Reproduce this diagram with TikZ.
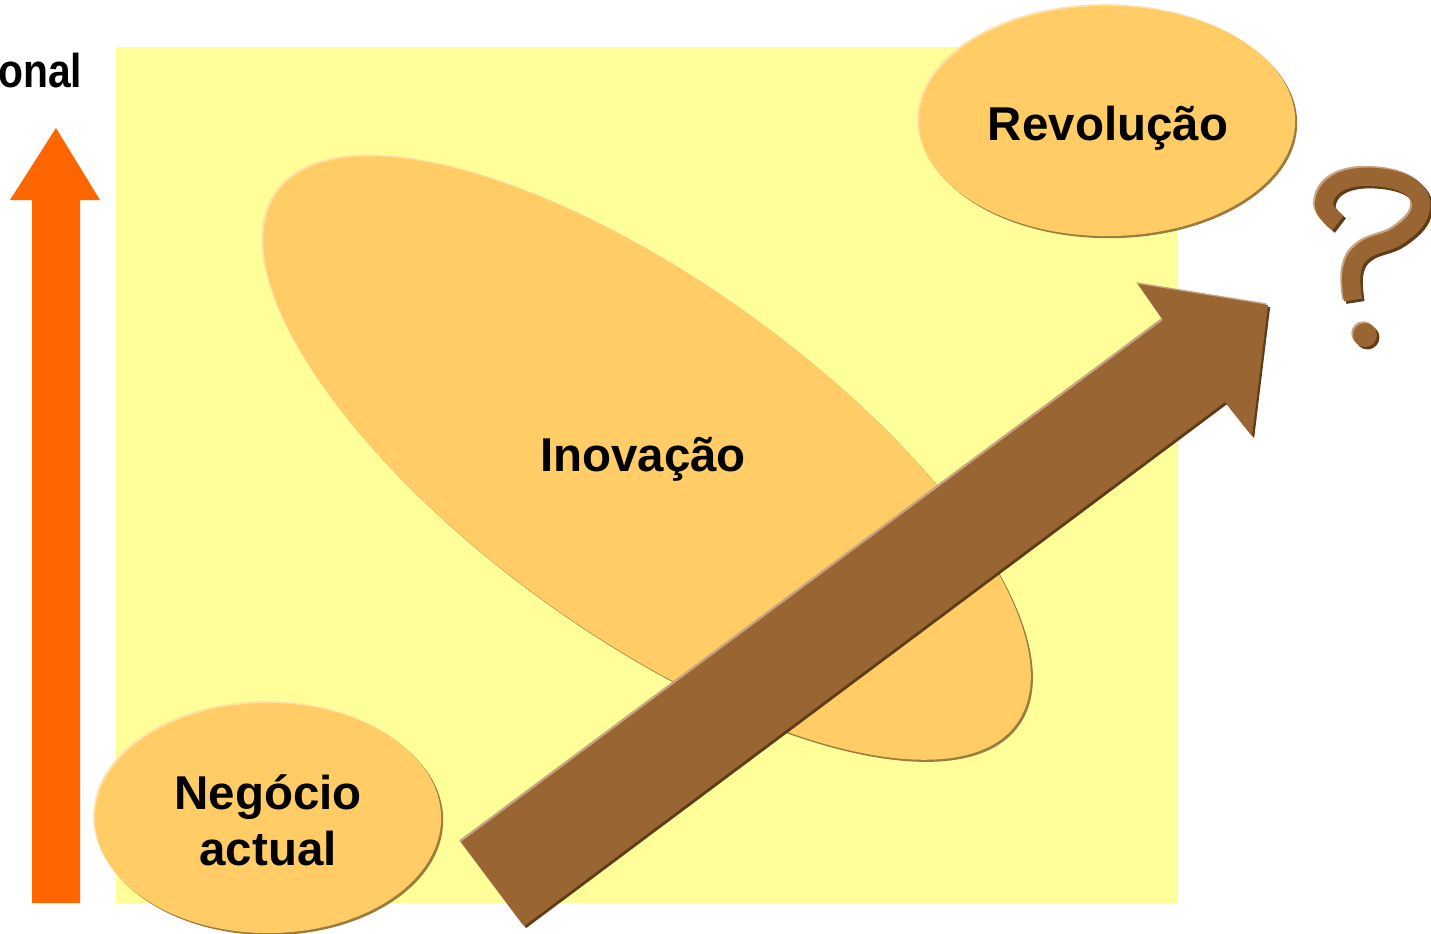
\documentclass[tikz,border=0pt]{standalone}
\usepackage{fontspec}
\setmainfont{Liberation Sans}
\newfontfamily\narrowsans[FakeStretch=0.86]{Liberation Sans}
\usepackage{tikz}
\usetikzlibrary{shapes.geometric,shadows}
\definecolor{paleyellow}{HTML}{FFFF99}
\definecolor{gold}{HTML}{FFCC66}
\definecolor{goldlight}{HTML}{FFE2A6}
\definecolor{golddark}{HTML}{9C7C3C}
\definecolor{brown}{HTML}{996633}
\definecolor{brownlight}{HTML}{C8A382}
\definecolor{browndark}{HTML}{5E3C16}
\definecolor{orange}{HTML}{FF6600}
\tikzset{
  bevel/.style 2 args={drop shadow={shadow xshift=-.5pt,shadow yshift=.5pt,fill=#1,opacity=1},
    drop shadow={shadow xshift=.6pt,shadow yshift=-.6pt,fill=#2,opacity=1}},
  blob/.style={ellipse,fill=gold,inner sep=0pt,bevel={goldlight}{golddark}},
  lbl/.style={font=\fontsize{13.5}{16}\selectfont\bfseries,inner sep=0pt,align=center}
}

\begin{document}
\begin{tikzpicture}[x=0.01cm,y=-0.01cm]
  \useasboundingbox (0,0) rectangle (1431,933);
  \fill[paleyellow] (116,47) rectangle (1178,903);
  \fill[orange] (32,903) -- (32,200) -- (10,200) -- (56,128) -- (100,200) -- (80,200) -- (80,903) -- cycle;
  \node[lbl,font=\fontsize{13.5}{16}\selectfont\narrowsans\bfseries,anchor=base east] (axis) at (83,87) {onal};
  \node[blob,minimum width=9.1cm,minimum height=3.52cm,rotate=-35.7] (inov) at (647,458) {};
  \node[blob,minimum width=3.76cm,minimum height=2.3cm] (rev) at (1107,121) {};
  \node[blob,minimum width=3.46cm,minimum height=2.3cm] (neg) at (268,818) {};
  \fill[brown,bevel={brownlight}{browndark}] (461,842) -- (1163,320) -- (1138,284) -- (1268,305)
    -- (1252,436) -- (1225,402) -- (524,926) -- cycle;
  \foreach \c/\dx/\dy in {brownlight/-.5/.5,browndark/.7/-.7,brown/0/0}{
    \draw[\c,line width=5.2pt,xshift=\dx pt,yshift=\dy pt] plot[smooth,tension=.7] coordinates
      {(1338,223) (1324,205) (1338,183) (1375,177) (1412,188) (1420,212) (1398,236) (1365,250) (1352,270) (1353,300)};
    \fill[\c,xshift=\dx pt,yshift=\dy pt] (1365,335) circle [radius=12];}
  \node[lbl,anchor=base] (inovtxt) at (643,471) {Inovação};
  \node[lbl,anchor=base] (revtxt) at (1108,140) {Revolução};
  \node[lbl] (negtxt) at (268,820) {Negócio\\actual};
\end{tikzpicture}
\end{document}
